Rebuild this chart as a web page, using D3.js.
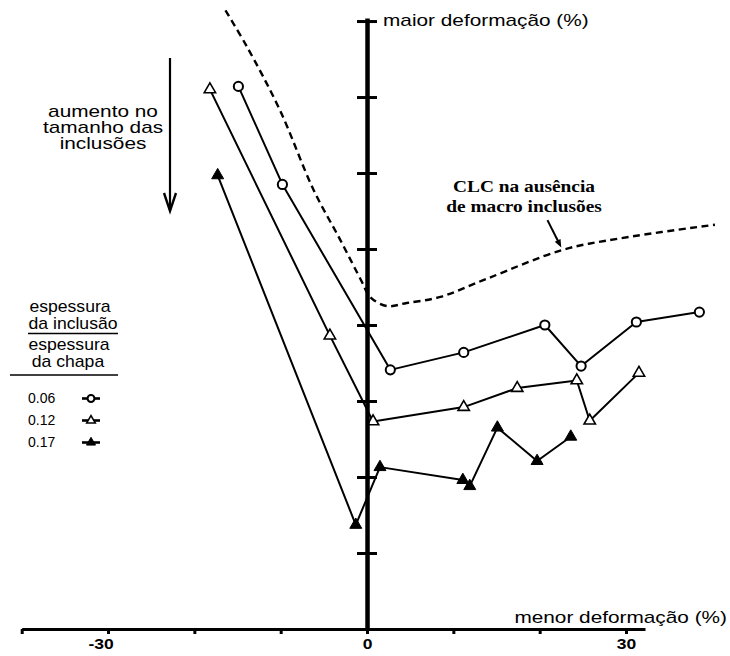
<!DOCTYPE html>
<html>
<head>
<meta charset="utf-8">
<script src="https://cdn.jsdelivr.net/npm/d3@7"></script>
<style>
  html, body { margin: 0; padding: 0; background: #fff; }
  svg { display: block; }
</style>
</head>
<body>
<svg id="chart" width="730" height="656"></svg>
<script>
// Forming limit data: minor strain (%) vs major strain (%) for three
// ratios of inclusion thickness to sheet thickness.
const ratioLabels = ["0.06", "0.12", "0.17"];

const minor006 = [-14.9, -9.8, 2.7, 11.2, 20.6, 24.8, 31.2, 38.5];
const major006 = [71.4, 58.5, 34.1, 36.4, 40.0, 34.6, 40.4, 41.7];

const minor012 = [-18.2, -4.3, 0.7, 11.2, 17.4, 24.3, 25.8, 31.5];
const major012 = [71.0, 38.6, 27.3, 29.2, 31.7, 32.7, 27.4, 33.7];

const minor017 = [-17.3, -1.3, 1.5, 11.1, 11.9, 15.1, 19.7, 23.6];
const major017 = [59.7, 13.7, 21.3, 19.6, 18.8, 26.5, 22.1, 25.3];

// Forming limit curve (CLC) of the sheet without macro inclusions
const clcMinor = [-16.4, -13.9, -10.1, -6.2, -3.1, -0.6, 0.35, 2.3, 4.6, 8.5, 13.9, 22.7, 29.3, 40.3];
const clcMajor = [81.4, 76.6, 68.3, 57.8, 51.2, 45.7, 43.7, 42.5, 42.9, 43.7, 46.1, 49.9, 51.4, 53.2];

const xTicks = [-40, -30, -20, -10, 0, 10, 20, 30];
const xTickLabels = [-30, 0, 30];
const yTicks = [10, 20, 30, 40, 50, 60, 70, 80];

const SANS = "'Liberation Sans', Arial, Helvetica, sans-serif";
const SERIF = "'Liberation Serif', 'Times New Roman', serif";

const svg = d3.select("#chart");

const x = d3.scaleLinear().domain([-40, 32.2]).range([21.7, 645]);
const y = d3.scaleLinear().domain([0, 80.4]).range([629, 18]);

// text drawn with a horizontal stretch around its anchor point
function wideText(parent, tx, ty, str, o) {
  const g = parent.append("g")
    .attr("transform", `translate(${tx},${ty}) scale(${o.sx || 1},1)`);
  return g.append("text")
    .attr("text-anchor", o.anchor || "start")
    .attr("font-family", o.family || SANS)
    .attr("font-size", o.size || 16)
    .attr("font-weight", o.weight || "normal")
    .attr("fill", "#000")
    .text(str);
}

const series = [
  { label: ratioLabels[0], minor: minor006, major: major006, mark: "circle" },
  { label: ratioLabels[1], minor: minor012, major: major012, mark: "openTri" },
  { label: ratioLabels[2], minor: minor017, major: major017, mark: "fillTri" }
];

const line = d3.line().x(d => x(d[0])).y(d => y(d[1]));

// ---- CLC dashed curve ----
const clcPts = clcMinor.map((v, i) => [v, clcMajor[i]]);
svg.append("path")
  .attr("d", d3.line().x(d => x(d[0])).y(d => y(d[1])).curve(d3.curveCatmullRom.alpha(0.5))(clcPts))
  .attr("fill", "none")
  .attr("stroke", "#000")
  .attr("stroke-width", 2.4)
  .attr("stroke-dasharray", "7,4.5");

// ---- data series ----
function drawMarker(g, kind, cx, cy, scale) {
  if (kind === "circle") {
    g.append("circle").attr("cx", cx).attr("cy", cy).attr("r", 4.6 * scale)
      .attr("fill", "#fff").attr("stroke", "#000").attr("stroke-width", 2);
  } else {
    const sym = d3.symbol().type(d3.symbolTriangle).size((kind === "fillTri" ? 62 : 56) * scale * scale);
    g.append("path").attr("d", sym())
      .attr("transform", `translate(${cx},${cy})`)
      .attr("fill", kind === "fillTri" ? "#000" : "#fff")
      .attr("stroke", "#000")
      .attr("stroke-width", kind === "fillTri" ? 1 : 1.6);
  }
}

const gData = svg.append("g");
series.forEach(s => {
  const pts = s.minor.map((v, i) => [v, s.major[i]]);
  gData.append("path").attr("d", line(pts))
    .attr("fill", "none").attr("stroke", "#000").attr("stroke-width", 2)
    .attr("stroke-linejoin", "round");
  pts.forEach(p => drawMarker(gData, s.mark, x(p[0]), y(p[1]), 1));
});

// ---- axes ----
const gx = svg.append("g").attr("transform", `translate(0,${y(0)})`)
  .call(d3.axisBottom(x).tickValues(xTicks).tickSize(5).tickSizeOuter(0)
    .tickFormat(d => xTickLabels.includes(d) ? String(d) : ""));
gx.select(".domain").attr("stroke", "#000").attr("stroke-width", 3);
gx.selectAll(".tick line").attr("stroke", "#000").attr("stroke-width", 3);
gx.selectAll(".tick text")
  .attr("font-family", SANS).attr("font-size", 14).attr("font-weight", "bold")
  .attr("fill", "#000")
  .attr("y", 20).attr("dy", 0)
  .attr("dx", d => d < 0 ? -6 : 0)
  .attr("transform", "scale(1.25,1)");

const gy = svg.append("g").attr("transform", `translate(${x(0)},0)`)
  .call(d3.axisLeft(y).tickValues(yTicks).tickSize(10).tickSizeOuter(0).tickFormat(""));
gy.select(".domain").attr("stroke", "#000").attr("stroke-width", 4.5);
gy.selectAll(".tick line").attr("stroke", "#000").attr("stroke-width", 3).attr("x1", 10);

// axis titles
wideText(svg, 383, 26, "maior deformação (%)", { size: 16, sx: 1.3 });
wideText(svg, 727, 623, "menor deformação (%)", { size: 16, sx: 1.3, anchor: "end" });

// ---- annotation: increasing inclusion size ----
["aumento no", "tamanho das", "inclusões"].forEach((t, i) => {
  wideText(svg, 103, 116.5 + i * 16.3, t, { size: 16, sx: 1.3, anchor: "middle" });
});
svg.append("line").attr("x1", 170).attr("y1", 58).attr("x2", 170).attr("y2", 210)
  .attr("stroke", "#000").attr("stroke-width", 2.2);
svg.append("path").attr("d", "M164,193 L170,211 L176,193")
  .attr("fill", "none").attr("stroke", "#000").attr("stroke-width", 2.4)
  .attr("stroke-linejoin", "miter");

// ---- annotation: CLC label ----
wideText(svg, 524, 192, "CLC na ausência", { size: 17, sx: 1.14, anchor: "middle", family: SERIF, weight: "bold" });
wideText(svg, 524, 212, "de macro inclusões", { size: 17, sx: 1.14, anchor: "middle", family: SERIF, weight: "bold" });
const tip = [x(22.5), y(50.2)];
const tail = [x(20.9), y(53.8)];
const ang = Math.atan2(tip[1] - tail[1], tip[0] - tail[0]);
svg.append("line").attr("x1", tail[0]).attr("y1", tail[1])
  .attr("x2", tip[0] - 5 * Math.cos(ang)).attr("y2", tip[1] - 5 * Math.sin(ang))
  .attr("stroke", "#000").attr("stroke-width", 2);
svg.append("path")
  .attr("d", "M0,0 L-8,-3.2 L-8,3.2 Z")
  .attr("transform", `translate(${tip[0]},${tip[1]}) rotate(${ang * 180 / Math.PI})`)
  .attr("fill", "#000");

// ---- legend ----
const gLeg = svg.append("g");
wideText(gLeg, 70, 312, "espessura", { size: 16, sx: 1.1, anchor: "middle" });
wideText(gLeg, 73, 329, "da inclusão", { size: 16, sx: 1.1, anchor: "middle" });
gLeg.append("line").attr("x1", 28).attr("x2", 118).attr("y1", 333.5).attr("y2", 333.5)
  .attr("stroke", "#000").attr("stroke-width", 1.6);
wideText(gLeg, 69, 350, "espessura", { size: 16, sx: 1.1, anchor: "middle" });
wideText(gLeg, 68, 367, "da chapa", { size: 16, sx: 1.1, anchor: "middle" });
gLeg.append("line").attr("x1", 10).attr("x2", 118).attr("y1", 375).attr("y2", 375)
  .attr("stroke", "#000").attr("stroke-width", 1.6);

series.forEach((s, i) => {
  const base = 403 + i * 22;
  const my = base - 4.5;
  wideText(gLeg, 28, base, s.label, { size: 14 });
  gLeg.append("line").attr("x1", 82).attr("x2", 100).attr("y1", my).attr("y2", my)
    .attr("stroke", "#000").attr("stroke-width", 2.6);
  drawMarker(gLeg, s.mark, 91, my, 0.75);
});
</script>
</body>
</html>
